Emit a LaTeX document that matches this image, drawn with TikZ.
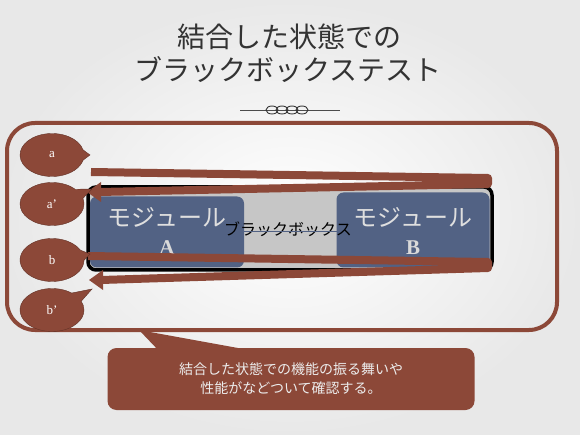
\documentclass[tikz,border=0pt]{standalone}
\usepackage{fontspec}
\setmainfont{Liberation Serif}
\newfontfamily\jp{Noto Sans CJK JP}
\usepackage{tikz}
\usetikzlibrary{shapes.callouts,arrows.meta}

\definecolor{rust}{RGB}{140,72,56}
\definecolor{slate}{RGB}{82,98,132}
\definecolor{boxgray}{RGB}{198,198,198}

\tikzset{
    bubble/.style={ellipse callout, fill=rust, draw=rust!70!black, thin,
        minimum width=64pt, minimum height=43pt, inner sep=0pt,
        callout pointer arc=28, text=white, font=\fontsize{13}{13}\selectfont},
    module/.style={fill=slate, rounded corners=7pt},
    bar/.style={rust, line width=8pt, line join=round},
    head/.style={fill=rust}
}

\begin{document}
\begin{tikzpicture}[x=1pt,y=-1pt]
    % page
    \shade[inner color=white, outer color=gray!18] (0,0) rectangle (580,435);
    \useasboundingbox (0,0) rectangle (580,435);

    % title
    \node[text=black!80, font=\jp\fontsize{28}{28}\selectfont] (T1) at (289,37) {結合した状態での};
    \node[text=black!80, font=\jp\fontsize{28}{28}\selectfont] (T2) at (288,70) {ブラックボックステスト};

    % ornament
    \draw[black!70, thin] (240,110) -- (340,110);
    \foreach \x in {272,282,292,302}
        \draw[black!80, line width=0.9pt] (\x,110) ellipse (6pt and 4pt);

    % frame
    \draw[rust, line width=4pt, rounded corners=28pt] (7,123) rectangle (557,330);

    % black box and modules
    \draw[black, line width=3.5pt, fill=boxgray, rounded corners=8pt] (88,187) rectangle (492,270);
    \node[module, minimum width=154pt, minimum height=71pt] (modA) at (167,232) {};
    \node[module, minimum width=153pt, minimum height=75pt] (modB) at (413,230) {};
    \node[text=gray!25, font=\jp\fontsize{24}{24}\selectfont] (modAtxt) at (167,217) {モジュール};
    \node[text=gray!30, font=\bfseries\fontsize{21}{21}\selectfont] (modAlet) at (167,248) {A};
    \node[text=gray!25, font=\jp\fontsize{24}{24}\selectfont] (modBtxt) at (413,217) {モジュール};
    \node[text=gray!30, font=\bfseries\fontsize{21}{21}\selectfont] (modBlet) at (413,248) {B};

    \node[font=\jp\fontsize{16}{16}\selectfont, inner sep=0pt] (bb) at (288,229) {ブラックボックス};
    \draw[slate, line width=1pt] (243,232) -- (337,232);

    % loops through the box
    \coordinate (ain) at (91,172);
    \coordinate (aturn1) at (488,178);
    \coordinate (aturn2) at (488,184);
    \coordinate (aend) at (99,192);
    \coordinate (aout) at (87,192);
    \draw[bar] (ain) -- (aturn1) -- (aturn2) -- (aend);
    \fill[head] (aout) -- (101,182) -- (101,202) -- cycle;

    \coordinate (bin) at (88,256);
    \coordinate (bturn1) at (488,262);
    \coordinate (bturn2) at (488,268);
    \coordinate (bend) at (101,280);
    \coordinate (bout) at (89,280);
    \draw[bar] (bin) -- (bturn1) -- (bturn2) -- (bend);
    \fill[head] (bout) -- (103,270) -- (103,290) -- cycle;

    % callouts
    \coordinate (pa) at (90,155);
    \coordinate (pa2) at (92,189);
    \coordinate (pb) at (90,254);
    \coordinate (pb2) at (92,289);
    \node[bubble, callout absolute pointer=(pa)] (a) at (52,155) {a};
    \node[bubble, callout absolute pointer=(pa2)] (a2) at (52,204) {a’};
    \node[bubble, callout absolute pointer=(pb)] (b) at (52,260) {b};
    \node[bubble, callout absolute pointer=(pb2)] (b2) at (52,310) {b’};

    % note
    \coordinate (ptip) at (139,330);
    \fill[rust] (ptip) -- (260,352) -- (160,352) -- cycle;
    \node[fill=rust, rounded corners=9pt, minimum width=367pt, minimum height=62pt,
        text=gray!15, align=center, font=\jp\fontsize{14}{19}\selectfont] (note) at (291,379)
        {結合した状態での機能の振る舞いや\\性能がなどついて確認する。};
\end{tikzpicture}
\end{document}
